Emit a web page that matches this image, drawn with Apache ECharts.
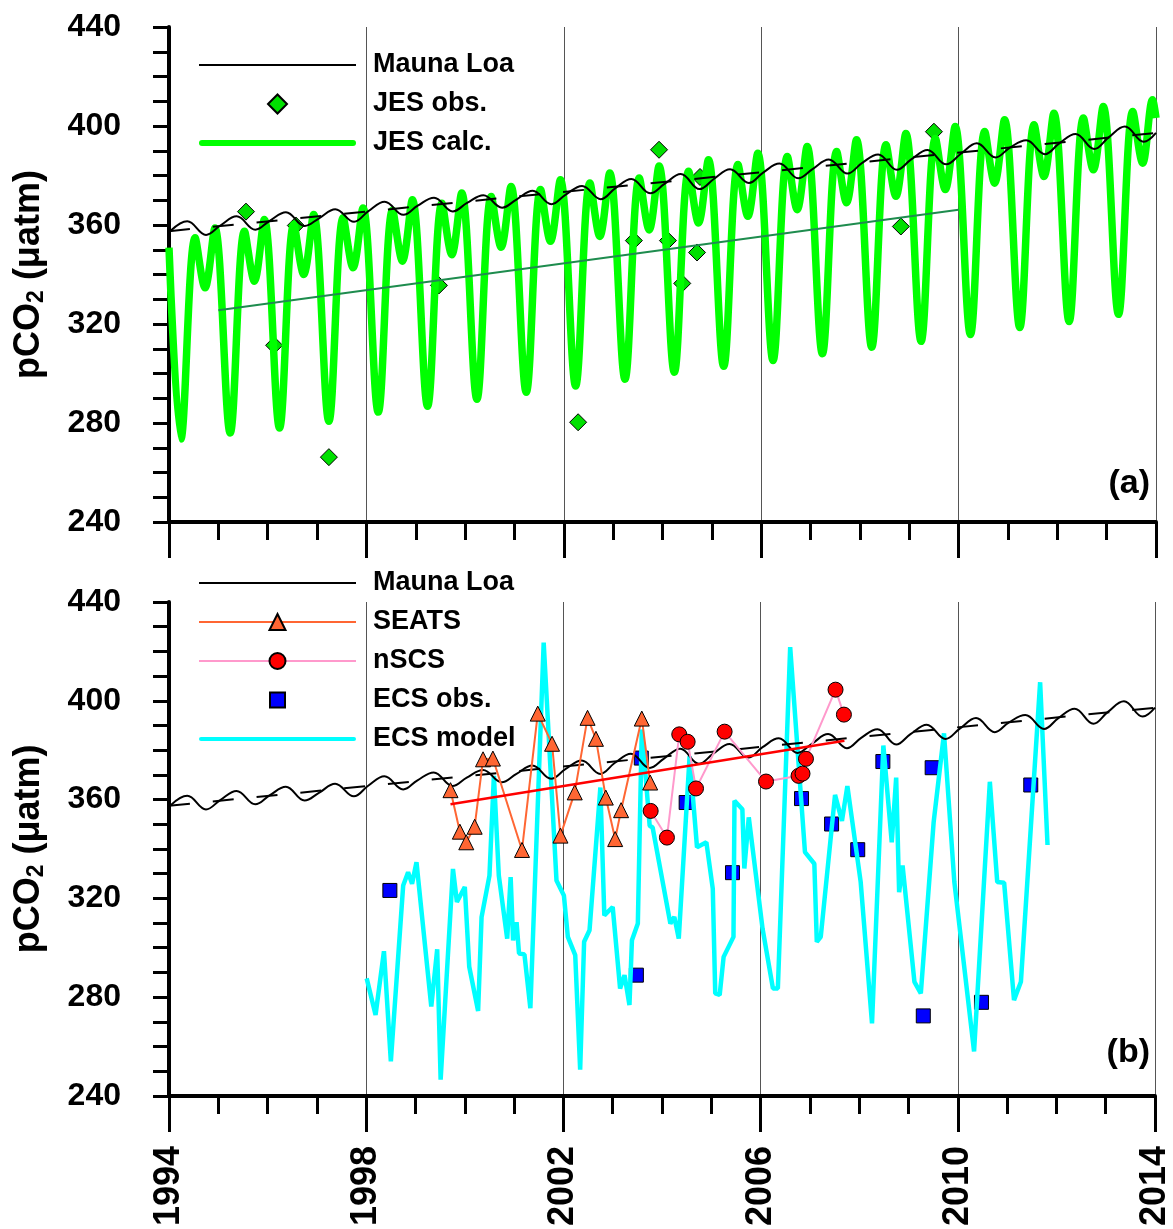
<!DOCTYPE html>
<html><head><meta charset="utf-8">
<script src="https://cdn.jsdelivr.net/npm/echarts@6.0.0/dist/echarts.min.js"></script>
<style>html,body{margin:0;padding:0;background:#fff}#c{width:1173px;height:1229px}</style>
</head><body><div id="c"></div>
<script>
// ---------- DATA ----------
const yearTicks = [1994, 1998, 2002, 2006, 2010, 2014];
const years = [1994,1995,1996,1997,1998,1999,2000,2001,2002,2003,2004,2005,2006,2007,2008,2009,2010,2011,2012,2013];

// Mauna Loa (Jan, May peak, Oct trough) per year
const mlJan = [357.8,359.8,361.7,362.7,365.6,367.8,368.9,370.3,372.3,374.8,376.6,378.6,381.2,382.6,385.0,386.5,388.7,391.3,393.0,395.4];
const mlMay = [361.5,363.5,365.2,366.4,369.4,371.0,372.0,373.8,375.8,378.6,380.6,382.5,384.8,386.5,388.5,390.3,393.0,394.2,396.8,399.8];
const mlOct = [356.0,358.1,359.6,361.3,364.1,365.5,367.0,368.4,370.4,372.8,374.5,377.0,378.9,380.8,382.3,384.5,387.3,388.6,390.7,393.6];
const mlEnd = [2014.0, 397.2];
const mlTrend = [[1994.0, 357.5], [2014.0, 397.2]];

// JES calc: start, per-year trough (Apr), peak (Jul), dip (Sep/Oct), peak (Dec), end
const jesStart = [1994.0, 350.9];
const jesTrough = [273.5,276.0,278.0,280.7,284.4,286.8,289.6,292.4,295.0,297.7,300.5,302.9,305.3,308.0,310.6,313.0,315.8,318.6,321.0,323.9];
const jesPeak1  = [354.8,357.5,360.2,362.9,366.0,368.8,371.5,374.3,377.0,379.0,381.7,384.4,387.7,389.7,392.4,395.0,397.8,400.5,403.2,405.9];
const jesDip    = [334.6,337.3,340.0,342.7,345.4,348.0,351.0,353.4,355.4,358.0,360.8,363.5,366.2,369.0,371.6,374.3,376.9,379.6,382.3,385.0];
const jesPeak2  = [358.8,362.2,364.2,366.9,370.2,372.9,375.6,378.3,381.0,383.8,386.4,389.0,391.7,394.4,397.0,399.8,402.5,405.2,407.9,410.6];
const jesPhase  = [0.24, 0.53, 0.73, 0.93];
const jesEnd = [2014.0, 403.2];

const jesObs = [[1995.56,365.4],[1996.13,311.4],[1996.57,359.8],[1997.24,266.2],[1999.47,335.6],[2002.29,280.3],
  [2003.42,353.7],[2003.93,390.4],[2004.11,353.7],[2004.40,336.4],[2004.70,348.9],[2004.76,379.4],[2008.83,359.4],[2009.50,397.7]];
const jesTrend = [[1995.0, 325.6], [2010.0, 366.2]];

const seats = [[1999.71,363.8],[1999.90,347.0],[2000.03,342.7],[2000.20,349.0],[2000.37,376.3],[2000.57,376.6],
  [2001.16,339.6],[2001.48,394.8],[2001.77,382.6],[2001.94,345.4],[2002.23,362.9],[2002.49,393.1],[2002.66,384.6],
  [2002.86,360.8],[2003.05,344.0],[2003.17,355.7],[2003.59,392.8],[2003.76,366.9]];
const nscs = [[2003.77,355.4],[2004.10,344.6],[2004.35,386.4],[2004.52,383.4],[2004.69,364.5],[2005.27,387.5],
  [2006.11,367.3],[2006.77,369.6],[2006.85,370.5],[2006.92,376.5],[2007.52,404.5],[2007.69,394.4]];
const ecsObs = [[1998.48,323.2],[2003.48,288.9],[2003.58,376.8],[2004.49,358.8],[2005.43,330.4],[2006.83,360.4],
  [2007.44,350.1],[2007.97,339.7],[2008.48,375.4],[2009.30,272.4],[2009.48,372.9],[2010.48,277.9],[2011.48,365.9]];
const ecsModel = [[1998.01,287.6],[1998.19,272.8],[1998.36,298.6],[1998.50,254.0],[1998.75,325.2],[1998.85,330.6],
  [1998.93,325.9],[1999.02,334.6],[1999.32,276.2],[1999.44,299.4],[1999.51,246.6],[1999.76,331.9],[1999.84,318.5],
  [2000.00,324.6],[2000.09,292.3],[2000.27,274.4],[2000.34,312.4],[2000.50,329.2],[2000.59,369.6],[2000.69,329.2],
  [2000.86,303.7],[2000.93,328.6],[2000.98,303.0],[2001.05,310.4],[2001.10,297.7],[2001.21,297.3],[2001.33,275.5],
  [2001.60,423.6],[2001.86,327.2],[2002.01,321.2],[2002.09,304.4],[2002.24,297.0],[2002.34,250.6],[2002.42,302.4],
  [2002.53,307.1],[2002.75,364.9],[2002.83,313.1],[2003.00,316.5],[2003.15,283.5],[2003.24,288.9],[2003.34,276.8],
  [2003.39,303.0],[2003.51,309.8],[2003.59,388.4],[2003.75,349.4],[2003.81,348.7],[2004.17,309.8],[2004.25,312.5],
  [2004.34,303.7],[2004.56,377.6],[2004.71,340.7],[2004.90,342.7],[2005.03,323.9],[2005.08,281.5],[2005.17,280.9],
  [2005.25,296.3],[2005.45,304.4],[2005.47,359.5],[2005.63,356.1],[2005.67,332.1],[2005.76,352.8],[2006.04,307.7],
  [2006.25,283.5],[2006.35,283.5],[2006.60,421.7],[2006.90,338.7],[2007.09,334.0],[2007.14,302.4],[2007.22,304.4],
  [2007.51,361.9],[2007.65,351.4],[2007.76,365.5],[2008.03,326.6],[2008.26,269.4],[2008.49,381.9],[2008.66,342.7],
  [2008.75,368.9],[2008.81,322.5],[2008.88,333.3],[2009.12,286.2],[2009.25,281.5],[2009.51,350.8],[2009.72,386.8],
  [2009.93,326.6],[2010.33,258.0],[2010.65,367.2],[2010.80,326.6],[2010.94,326.3],[2011.14,278.8],[2011.28,286.2],
  [2011.67,407.5],[2011.82,341.6]];
const seatsTrend = [[1999.71,358.1],[2007.70,383.8]];

// ---------- BUILD ----------
const mauna = [];
years.forEach((y, i) => { mauna.push([y + 0.04, mlJan[i]], [y + 0.37, mlMay[i]], [y + 0.75, mlOct[i]]); });
mauna.push(mlEnd);
const jesCalc = [jesStart];
years.forEach((y, i) => {
  const v = [jesTrough[i], jesPeak1[i], jesDip[i], jesPeak2[i]];
  v.forEach((val, k) => jesCalc.push([y + jesPhase[k], val]));
});
jesCalc.push(jesEnd);

const FONT = '"Liberation Sans", Arial, Helvetica, sans-serif';
function xAx(gi, showLabels) {
  return {
    type: 'value', gridIndex: gi, min: 1994, max: 2014, interval: 4,
    axisLine: { show: true, onZero: false, lineStyle: { color: '#000', width: 4 } },
    axisTick: { show: true, length: 36, lineStyle: { color: '#000', width: 3 } },
    minorTick: { show: true, splitNumber: 4, length: 18, lineStyle: { color: '#000', width: 3 } },
    splitLine: { show: true, lineStyle: { color: '#555', width: 1 } },
    axisLabel: { show: showLabels, rotate: 90, margin: 50, fontSize: 36, fontWeight: 'bold', color: '#000',
      fontFamily: FONT, formatter: v => (yearTicks.indexOf(v) >= 0 ? String(v) : '') }
  };
}
function yAx(gi) {
  return {
    type: 'value', gridIndex: gi, min: 240, max: 440, interval: 40,
    axisLine: { show: true, lineStyle: { color: '#000', width: 4 } },
    axisTick: { show: true, length: 16, lineStyle: { color: '#000', width: 3 } },
    minorTick: { show: true, splitNumber: 4, length: 16, lineStyle: { color: '#000', width: 3 } },
    splitLine: { show: false },
    axisLabel: { margin: 48, fontSize: 32, fontWeight: 'bold', color: '#000', fontFamily: FONT },
    name: '{a|pCO}{s|2}{a| (μatm)}', nameLocation: 'middle', nameRotate: 90, nameGap: 119,
    nameTextStyle: { rich: {
      a: { fontSize: 36, fontWeight: 'bold', fontFamily: FONT, color: '#000', lineHeight: 42 },
      s: { fontSize: 23, fontWeight: 'bold', fontFamily: FONT, color: '#000', lineHeight: 42, padding: [16, 0, 0, 0] }
    } }
  };
}
const legendText = { fontSize: 27, fontWeight: 'bold', fontFamily: FONT, color: '#000', lineHeight: 30, padding: [0, 0, 0, 12] };
// legend icons (157 x 20 box)
const ICON_THIN = 'path://M0,0M157,20M0,9H157V11H0Z';
const ICON_THICK = 'path://M0,0M157,20M3,7H154A3,3 0 0 1 154,13H3A3,3 0 0 1 3,7Z';
const ICON_MID = 'path://M0,0M157,20M2,8H155A2,2 0 0 1 155,12H2A2,2 0 0 1 2,8Z';
const ICON_DIAMOND = 'path://M0,0M157,20M69,10L78.5,0.5L88,10L78.5,19.5Z';
const ICON_SQUARE = 'path://M0,0M157,20M71,2.5H86V17.5H71Z';
const noBorder = { borderWidth: 0 };

const option = {
  animation: false,
  backgroundColor: '#fff',
  title: [
    { text: '(a)', right: 18, top: 462, textStyle: { fontSize: 34, fontWeight: 'bold', fontFamily: FONT, color: '#000' } },
    { text: '(b)', right: 18, top: 1031, textStyle: { fontSize: 34, fontWeight: 'bold', fontFamily: FONT, color: '#000' } }
  ],
  grid: [
    { left: 169, right: 17, top: 27, height: 495 },
    { left: 169, right: 17, top: 602, height: 496 }
  ],
  xAxis: [xAx(0, false), xAx(1, true)],
  yAxis: [yAx(0), yAx(1)],
  legend: [
    { data: [
        { name: 'Mauna Loa', icon: ICON_THIN, itemStyle: noBorder },
        { name: 'JES obs.', icon: ICON_DIAMOND },
        { name: 'JES calc.', icon: ICON_THICK, itemStyle: noBorder }
      ],
      orient: 'vertical', left: 193, top: 45, itemWidth: 157, itemHeight: 20, itemGap: 9,
      symbolKeepAspect: true, textStyle: legendText, selectedMode: false },
    { data: [
        { name: 'Mauna Loa', icon: ICON_THIN, itemStyle: noBorder },
        'SEATS', 'nSCS',
        { name: 'ECS obs.', icon: ICON_SQUARE },
        { name: 'ECS model', icon: ICON_MID, itemStyle: noBorder }
      ],
      orient: 'vertical', left: 193, top: 563, itemWidth: 157, itemHeight: 20, itemGap: 9,
      symbolKeepAspect: true, textStyle: legendText, selectedMode: false }
  ],
  series: [
    // panel a
    { name: 'JES obs.', type: 'scatter', xAxisIndex: 0, yAxisIndex: 0, data: jesObs, symbol: 'diamond', symbolSize: 17,
      itemStyle: { color: '#00e000', borderColor: '#000', borderWidth: 1, opacity: 1 }, z: 2 },
    { name: 'JES calc.', type: 'line', xAxisIndex: 0, yAxisIndex: 0, data: jesCalc, showSymbol: false, symbol: 'none', smooth: 0.35,
      lineStyle: { color: '#00ff00', width: 7.5 }, itemStyle: { color: '#00ff00' }, z: 3 },
    { name: 'Mauna Loa', type: 'line', xAxisIndex: 0, yAxisIndex: 0, data: mauna, symbol: 'none', smooth: 0.4,
      lineStyle: { color: '#000', width: 2 }, itemStyle: { color: '#000' }, z: 4 },
    { name: 'ML trend a', type: 'line', xAxisIndex: 0, yAxisIndex: 0, data: mlTrend, symbol: 'none',
      lineStyle: { color: '#000', width: 2, type: [21, 23] }, z: 4 },
    { name: 'JES trend', type: 'line', xAxisIndex: 0, yAxisIndex: 0, data: jesTrend, symbol: 'none',
      lineStyle: { color: '#1e8c4e', width: 2 }, z: 5 },
    // panel b
    { name: 'ECS obs.', type: 'scatter', xAxisIndex: 1, yAxisIndex: 1, data: ecsObs, symbol: 'rect', symbolSize: 14,
      itemStyle: { color: '#0000ff', borderColor: '#000', borderWidth: 1, opacity: 1 }, z: 2 },
    { name: 'ECS model', type: 'line', xAxisIndex: 1, yAxisIndex: 1, data: ecsModel, symbol: 'none',
      lineStyle: { color: '#00ffff', width: 4.5 }, itemStyle: { color: '#00ffff' }, z: 3 },
    { name: 'Mauna Loa', type: 'line', xAxisIndex: 1, yAxisIndex: 1, data: mauna, symbol: 'none', smooth: 0.4,
      lineStyle: { color: '#000', width: 2 }, itemStyle: { color: '#000' }, z: 4 },
    { name: 'ML trend b', type: 'line', xAxisIndex: 1, yAxisIndex: 1, data: mlTrend, symbol: 'none',
      lineStyle: { color: '#000', width: 2, type: [21, 23] }, z: 4 },
    { name: 'SEATS', type: 'line', xAxisIndex: 1, yAxisIndex: 1, data: seats, symbol: 'triangle', symbolSize: 15, showAllSymbol: true,
      lineStyle: { color: '#ff6633', width: 2 }, itemStyle: { color: '#ff6633', borderColor: '#000', borderWidth: 1 }, z: 5 },
    { name: 'nSCS', type: 'line', xAxisIndex: 1, yAxisIndex: 1, data: nscs, symbol: 'circle', symbolSize: 15, showAllSymbol: true,
      lineStyle: { color: '#ff99cc', width: 2 }, itemStyle: { color: '#ff0000', borderColor: '#000', borderWidth: 1 }, z: 6 },
    { name: 'SEATS trend', type: 'line', xAxisIndex: 1, yAxisIndex: 1, data: seatsTrend, symbol: 'none',
      lineStyle: { color: '#ff0000', width: 2.5 }, z: 7 }
  ]
};
const chart = echarts.init(document.getElementById('c'), null, { renderer: 'canvas' });
chart.setOption(option);
</script></body></html>
